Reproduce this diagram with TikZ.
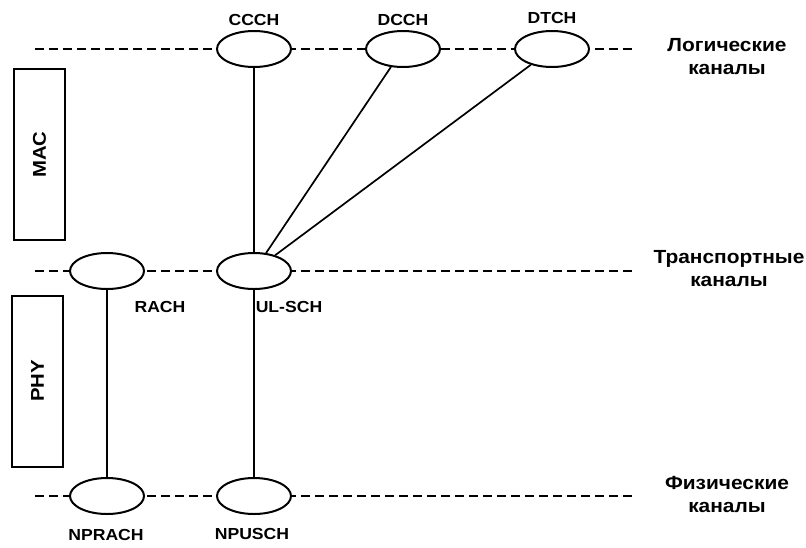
\documentclass[tikz,border=0pt]{standalone}
\usepackage{fontspec}
\setmainfont{Liberation Sans}[FakeStretch=1.1]
\usetikzlibrary{shapes.geometric}
\begin{document}
\begin{tikzpicture}[x=1pt,y=-1pt,
  chan/.style={ellipse,draw,line width=2pt,fill=white,minimum width=74pt,minimum height=36pt,inner sep=0pt},
  lvl/.style={dash pattern=on 9pt off 5pt,line width=1.6pt},
  conn/.style={line width=1.7pt},
  lbl/.style={font=\fontsize{16}{18}\selectfont\bfseries,inner sep=0pt},
  side/.style={font=\fontsize{19}{23}\selectfont\bfseries,align=center,inner sep=0pt},
  layer/.style={draw,line width=2pt,minimum width=51pt,minimum height=171pt,inner sep=0pt},
  layertxt/.style={font=\fontsize{18.5}{20}\selectfont\bfseries,inner sep=0pt,rotate=90}]
\useasboundingbox (0,0) rectangle (806,547);
% levels
\coordinate (l1) at (35,49); \coordinate (r1) at (636,49);
\coordinate (l2) at (35,271); \coordinate (r2) at (636,271);
\coordinate (l3) at (35,496); \coordinate (r3) at (636,496);
\draw[lvl] (l1) -- (r1);
\draw[lvl] (l2) -- (r2);
\draw[lvl] (l3) -- (r3);
% channels
\node[chan] (ccch) at (254,49) {};
\node[chan] (dcch) at (403,49) {};
\node[chan] (dtch) at (552,49) {};
\node[chan] (rach) at (107,271) {};
\node[chan] (ulsch) at (254,271) {};
\node[chan] (nprach) at (107,496) {};
\node[chan] (npusch) at (254,496) {};
% connectors
\draw[conn] (ccch) -- (ulsch);
\draw[conn] (dcch) -- (ulsch);
\draw[conn] (dtch) -- (ulsch);
\draw[conn] (rach) -- (nprach);
\draw[conn] (ulsch) -- (npusch);
% labels
\node[lbl] (tccch) at (254,20) {CCCH};
\node[lbl] (tdcch) at (403,20) {DCCH};
\node[lbl] (tdtch) at (552,18) {DTCH};
\node[lbl] (trach) at (160,307) {RACH};
\node[lbl] (tulsch) at (289,307) {UL-SCH};
\node[lbl] (tnprach) at (106,535) {NPRACH};
\node[lbl] (tnpusch) at (252,534) {NPUSCH};
% side texts
\node[side] (slog) at (727,57) {Логические\\каналы};
\node[side] (stra) at (729,269) {Транспортные\\каналы};
\node[side] (sphy) at (727,495) {Физические\\каналы};
% layer boxes
\node[layer] (mac) at (39.5,154.5) {};
\node[layertxt] (tmac) at (mac.center) {MAC};
\node[layer] (phy) at (37.5,381) {};
\node[layertxt] (tphy) at (phy.center) {PHY};
\end{tikzpicture}
\end{document}
